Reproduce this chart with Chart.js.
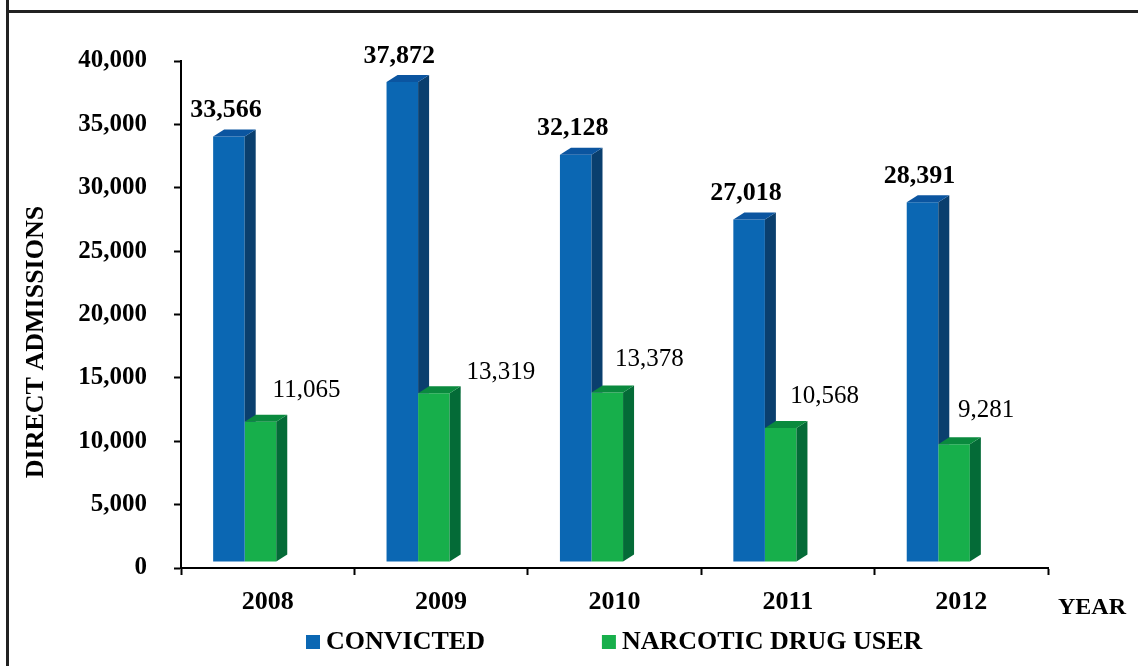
<!DOCTYPE html>
<html>
<head>
<meta charset="utf-8">
<script src="https://cdn.jsdelivr.net/npm/chart.js@4"></script>
<style>
    body { margin: 0; background: #fff; }
    #wrap { width: 1138px; height: 666px; position: relative; }
</style>
</head>
<body>
<div id="wrap"><canvas id="myChart"></canvas></div>
<script>
// data
const years = ['2008', '2009', '2010', '2011', '2012'];
const convicted = [33566, 37872, 32128, 27018, 28391];
const narcotic = [11065, 13319, 13378, 10568, 9281];
const seriesNames = ['CONVICTED', 'NARCOTIC DRUG USER'];
const yMax = 40000;
const yStep = 5000;

const SERIF = "'Liberation Serif', 'Times New Roman', serif";

// front / side / top colours for the fake 3d bars
const faces = [
    { front: '#0b67b3', side: '#0a3f6e', top: '#0b55a0' },
    { front: '#17af4b', side: '#046b37', top: '#0a8a3e' }
];

// label nudges (relative to front top centre of each bar)
const labelNudge = [
    { dx: [-3, -3, -3, -3, -3], dy: [-26, -26, -26, -26, -26] },
    { dx: [46, 67, 42, 44, 32], dy: [-31, -21, -33, -32, -34] }
];

const SHIFT_X = -23, SHIFT_Y = -6;   // bars sit a bit off the axes, like the 3d floor
const DEPTH_X = 11, DEPTH_Y = -7;

const fmt = v => Number(v).toLocaleString('en-US');

function drawFaces(ctx, el, f) {
    const l = el.x - el.width / 2, r = el.x + el.width / 2;
    ctx.fillStyle = f.side;
    ctx.beginPath();
    ctx.moveTo(r, el.y);
    ctx.lineTo(r + DEPTH_X, el.y + DEPTH_Y);
    ctx.lineTo(r + DEPTH_X, el.base + DEPTH_Y);
    ctx.lineTo(r, el.base);
    ctx.closePath();
    ctx.fill();
    ctx.fillStyle = f.top;
    ctx.beginPath();
    ctx.moveTo(l, el.y);
    ctx.lineTo(r, el.y);
    ctx.lineTo(r + DEPTH_X, el.y + DEPTH_Y);
    ctx.lineTo(l + DEPTH_X, el.y + DEPTH_Y);
    ctx.closePath();
    ctx.fill();
}

const bar3d = {
    id: 'bar3d',
    beforeDraw(chart) {
        const ctx = chart.ctx;
        ctx.save();
        ctx.fillStyle = '#222';
        ctx.fillRect(6, 0, 3, 666);
        ctx.fillRect(6, 10, 1132, 3);
        ctx.restore();
    },
    beforeDatasetsDraw(chart) {
        chart.ctx.save();
        chart.ctx.translate(SHIFT_X, SHIFT_Y);
    },
    afterDatasetsDraw(chart) {
        const ctx = chart.ctx;
        const blue = chart.getDatasetMeta(0).data;
        const green = chart.getDatasetMeta(1).data;
        blue.forEach((el, j) => {
            // blue side hides behind the green front
            ctx.save();
            ctx.beginPath();
            ctx.rect(0, -100, chart.width, green[j].y + 100);
            ctx.clip();
            drawFaces(ctx, el, faces[0]);
            ctx.restore();
            drawFaces(ctx, green[j], faces[1]);
        });
        ctx.restore();

        // value labels
        ctx.save();
        ctx.fillStyle = '#000';
        ctx.textAlign = 'center';
        ctx.textBaseline = 'middle';
        chart.data.datasets.forEach((ds, i) => {
            const meta = chart.getDatasetMeta(i);
            ctx.font = (i === 0 ? 'bold 26px ' : '25px ') + SERIF;
            meta.data.forEach((el, j) => {
                const x = el.x + SHIFT_X + labelNudge[i].dx[j];
                const y = el.y + SHIFT_Y + labelNudge[i].dy[j];
                ctx.fillText(fmt(ds.data[j]), x, y);
            });
        });

        // y axis title
        ctx.save();
        ctx.translate(36, 342);
        ctx.rotate(-Math.PI / 2);
        ctx.font = 'bold 26px ' + SERIF;
        ctx.fillText('DIRECT ADMISSIONS', 0, 0);
        ctx.restore();

        // x axis title
        ctx.textAlign = 'left';
        ctx.font = 'bold 24px ' + SERIF;
        ctx.fillText('YEAR', 1058, 608);

        // legend
        ctx.font = 'bold 26px ' + SERIF;
        let x = 306;
        chart.data.datasets.forEach((ds, i) => {
            ctx.fillStyle = faces[i].front;
            ctx.fillRect(x, 635, 14, 14);
            ctx.fillStyle = '#000';
            ctx.fillText(ds.label, x + 20, 642);
            x += 20 + ctx.measureText(ds.label).width + 117;
        });
        ctx.restore();
    }
};

const ctx = document.getElementById('myChart').getContext('2d');

new Chart(ctx, {
    type: 'bar',
    data: {
        labels: years,
        datasets: [{
            label: seriesNames[0],
            data: convicted,
            backgroundColor: faces[0].front,
            clip: false
        }, {
            label: seriesNames[1],
            data: narcotic,
            backgroundColor: faces[1].front,
            clip: false
        }]
    },
    options: {
        responsive: true,
        maintainAspectRatio: false,
        animation: false,
        layout: { padding: { top: 61, right: 90, bottom: 0, left: 0 } },
        datasets: { bar: { barPercentage: 1, categoryPercentage: 0.364 } },
        plugins: {
            legend: { display: false },
            tooltip: { enabled: false }
        },
        scales: {
            x: {
                grid: { drawOnChartArea: false, offset: true, tickLength: 7, tickColor: '#000', tickWidth: 2 },
                border: { color: '#000', width: 2 },
                ticks: { color: '#000', padding: 12, font: { family: SERIF, size: 26, weight: 'bold' } },
                afterFit: s => { s.height = 98; }
            },
            y: {
                min: 0,
                max: yMax,
                grid: { drawOnChartArea: false, tickLength: 7, tickColor: '#000', tickWidth: 2 },
                border: { color: '#000', width: 2 },
                ticks: {
                    stepSize: yStep,
                    color: '#000',
                    padding: 27,
                    font: { family: SERIF, size: 25, weight: 'bold' },
                    callback: v => fmt(v)
                },
                afterFit: s => { s.width = 181; }
            }
        }
    },
    plugins: [bar3d]
});
</script>
</body>
</html>
